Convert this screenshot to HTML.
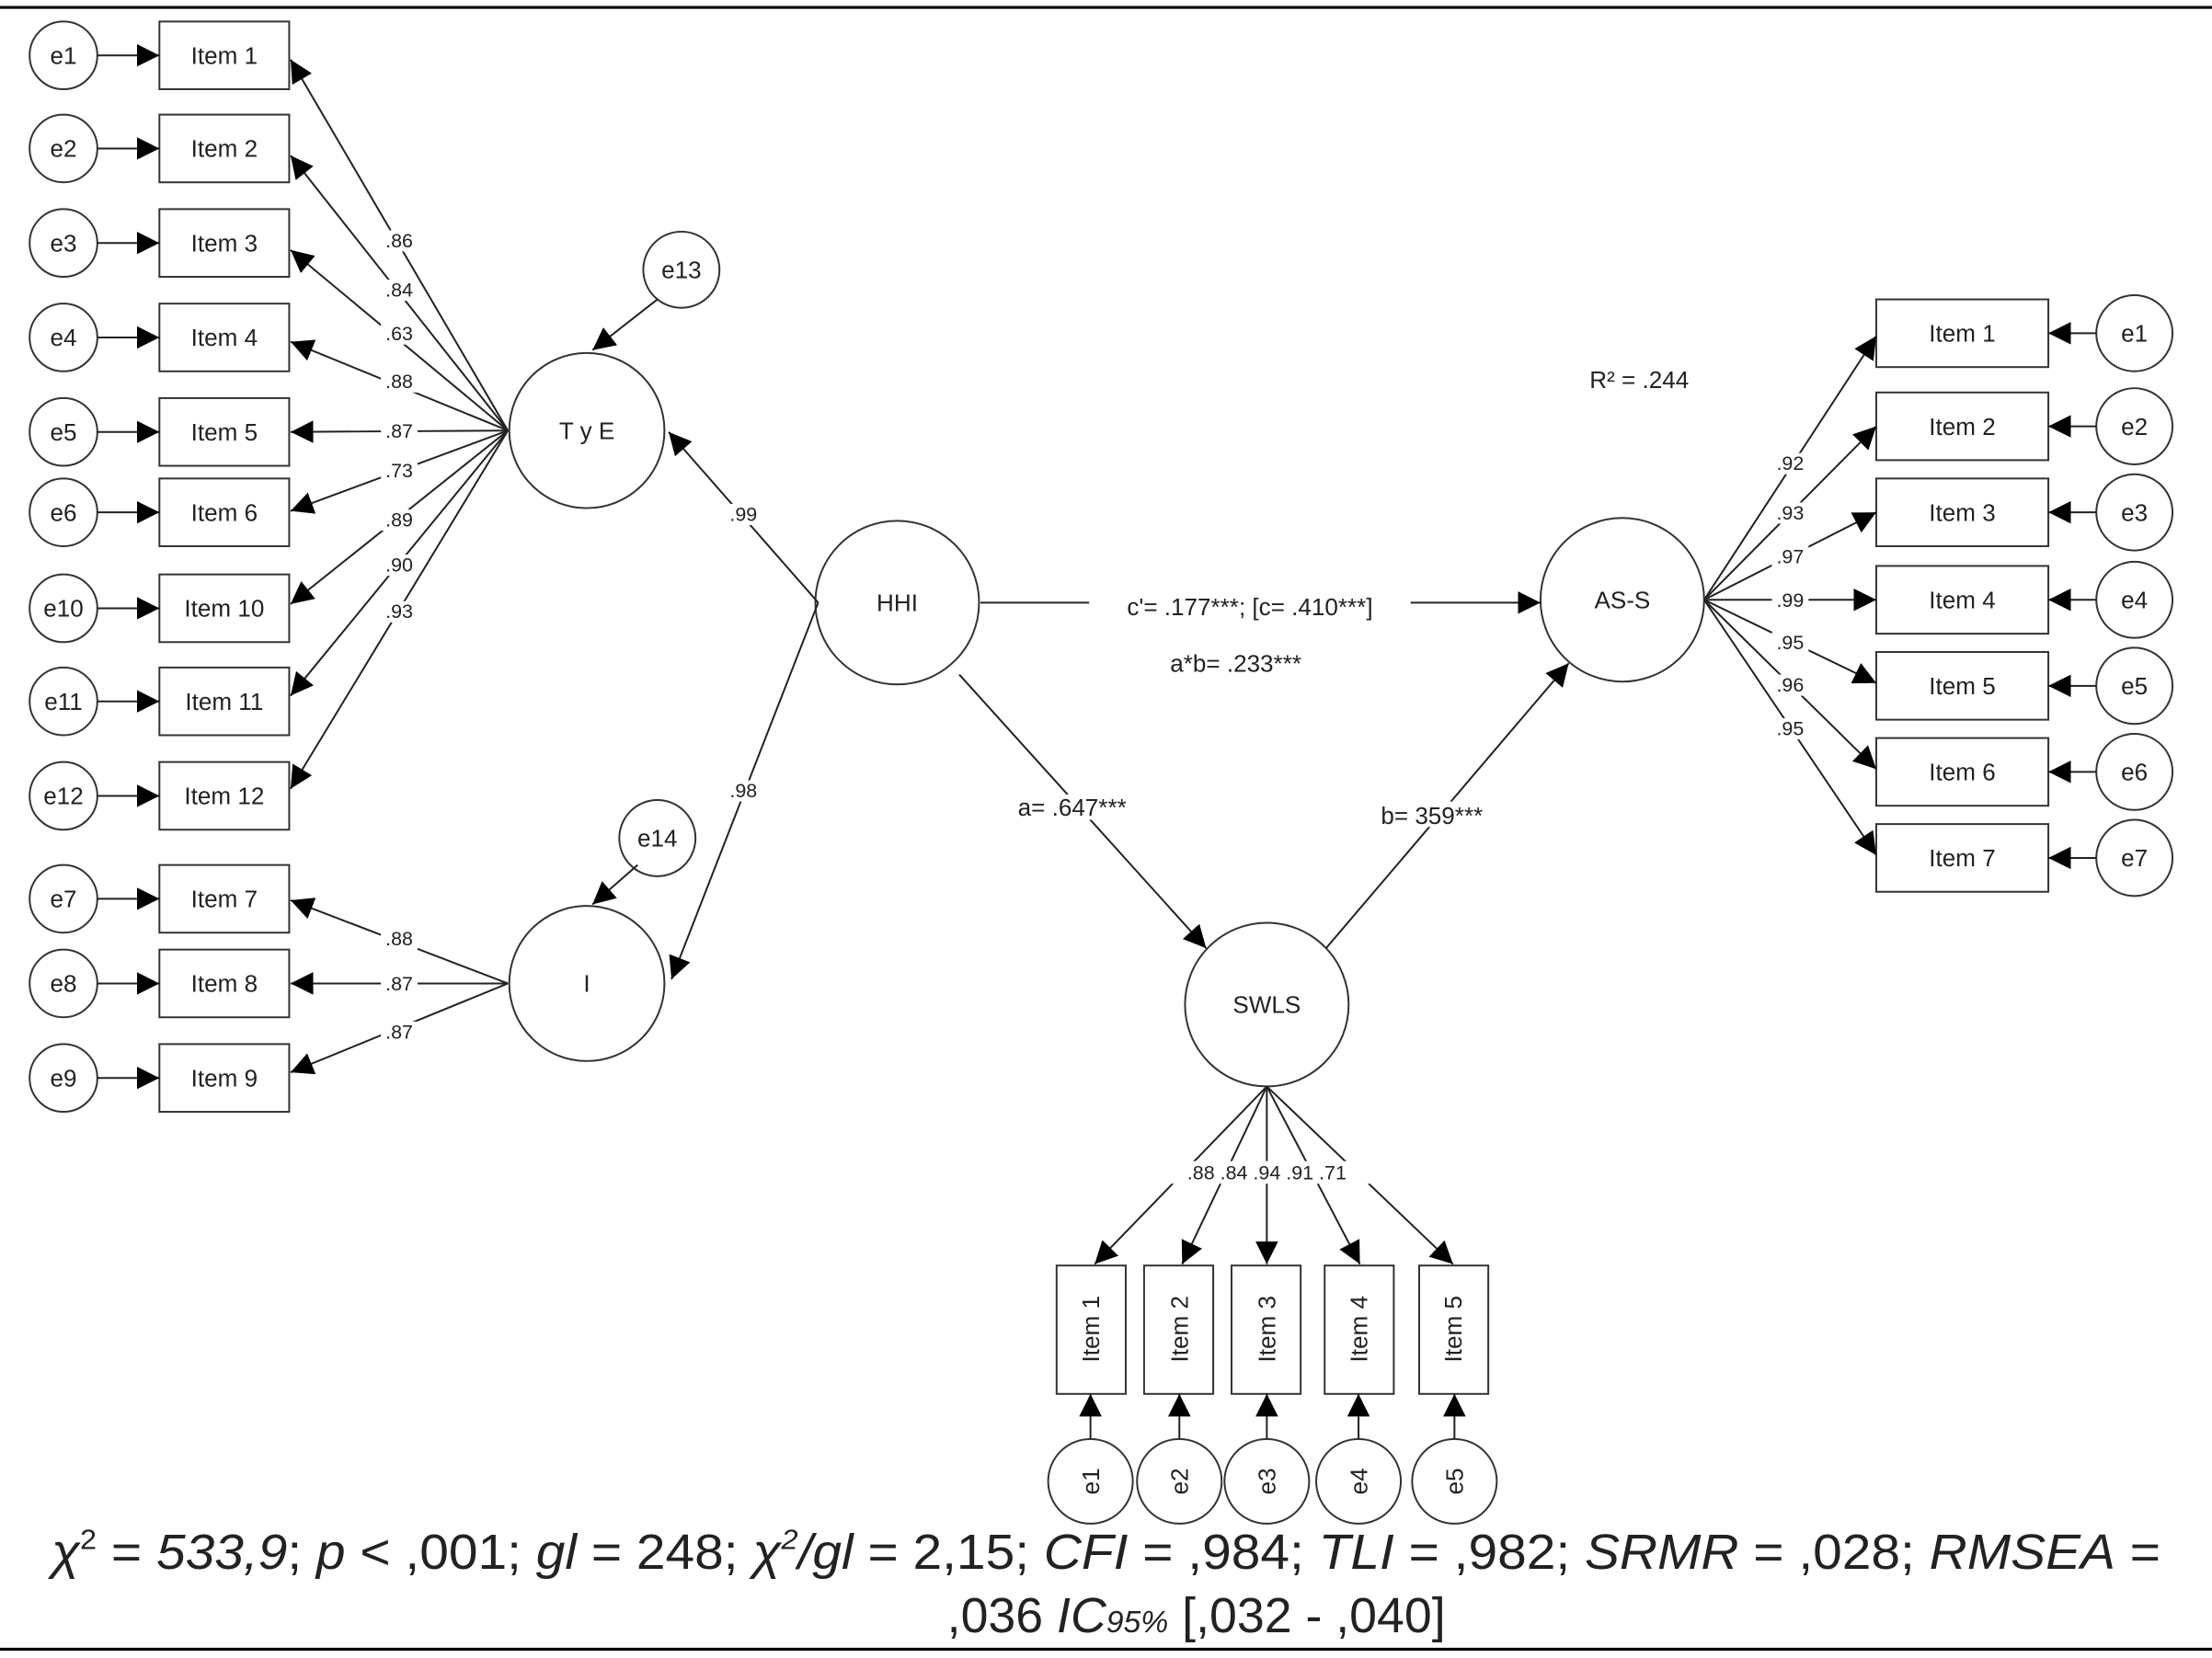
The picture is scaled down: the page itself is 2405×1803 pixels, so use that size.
<!DOCTYPE html>
<html><head><meta charset="utf-8"><style>
html,body{margin:0;padding:0;background:#fff;}
svg{display:block;}
text{font-family:"Liberation Sans",sans-serif;fill:#222;}
</style></head><body>
<svg width="2405" height="1803" viewBox="0 0 1568 1175" xmlns="http://www.w3.org/2000/svg">
<defs>
<marker id="a" viewBox="0 0 10 10" refX="10" refY="5" markerWidth="16" markerHeight="16" markerUnits="userSpaceOnUse" orient="auto">
<path d="M0,0 L10,5 L0,10 z" fill="#000"/></marker>
</defs>
<rect width="1568" height="1175" fill="#fff"/>
<line x1="0" y1="5" x2="1568" y2="5" stroke="#000" stroke-width="2"/>
<line x1="0" y1="1169" x2="1568" y2="1169" stroke="#000" stroke-width="2"/>
<g stroke="#333" stroke-width="1.3" fill="#fff" font-size="17">
<g>
<circle cx="45" cy="39" r="24"/><rect x="113" y="15" width="92" height="48"/>
<circle cx="45" cy="105" r="24"/><rect x="113" y="81" width="92" height="48"/>
<circle cx="45" cy="172" r="24"/><rect x="113" y="148" width="92" height="48"/>
<circle cx="45" cy="239" r="24"/><rect x="113" y="215" width="92" height="48"/>
<circle cx="45" cy="306" r="24"/><rect x="113" y="282" width="92" height="48"/>
<circle cx="45" cy="363" r="24"/><rect x="113" y="339" width="92" height="48"/>
<circle cx="45" cy="431" r="24"/><rect x="113" y="407" width="92" height="48"/>
<circle cx="45" cy="497" r="24"/><rect x="113" y="473" width="92" height="48"/>
<circle cx="45" cy="564" r="24"/><rect x="113" y="540" width="92" height="48"/>
<circle cx="45" cy="637" r="24"/><rect x="113" y="613" width="92" height="48"/>
<circle cx="45" cy="697" r="24"/><rect x="113" y="673" width="92" height="48"/>
<circle cx="45" cy="764" r="24"/><rect x="113" y="740" width="92" height="48"/>
</g>
<circle cx="416" cy="305" r="55"/><circle cx="483" cy="191" r="27"/>
<circle cx="416" cy="697" r="55"/><circle cx="466" cy="594" r="27"/>
<circle cx="636" cy="427" r="58"/><circle cx="898" cy="712" r="58"/><circle cx="1150" cy="425" r="58"/>
<g>
<rect x="1330" y="212" width="122" height="48"/><circle cx="1513" cy="236" r="27"/>
<rect x="1330" y="278" width="122" height="48"/><circle cx="1513" cy="302" r="27"/>
<rect x="1330" y="339" width="122" height="48"/><circle cx="1513" cy="363" r="27"/>
<rect x="1330" y="401" width="122" height="48"/><circle cx="1513" cy="425" r="27"/>
<rect x="1330" y="462" width="122" height="48"/><circle cx="1513" cy="486" r="27"/>
<rect x="1330" y="523" width="122" height="48"/><circle cx="1513" cy="547" r="27"/>
<rect x="1330" y="584" width="122" height="48"/><circle cx="1513" cy="608" r="27"/>
</g>
<g>
<rect x="749" y="897" width="49" height="91"/><circle cx="773" cy="1050" r="30"/>
<rect x="811" y="897" width="49" height="91"/><circle cx="836" cy="1050" r="30"/>
<rect x="873" y="897" width="49" height="91"/><circle cx="898" cy="1050" r="30"/>
<rect x="939" y="897" width="49" height="91"/><circle cx="963" cy="1050" r="30"/>
<rect x="1006" y="897" width="49" height="91"/><circle cx="1031" cy="1050" r="30"/>
</g>
</g>
<g stroke="#222" stroke-width="1.3" marker-end="url(#a)">
<line x1="69" y1="39" x2="113" y2="39"/><line x1="69" y1="105" x2="113" y2="105"/>
<line x1="69" y1="172" x2="113" y2="172"/><line x1="69" y1="239" x2="113" y2="239"/>
<line x1="69" y1="306" x2="113" y2="306"/><line x1="69" y1="363" x2="113" y2="363"/>
<line x1="69" y1="431" x2="113" y2="431"/><line x1="69" y1="497" x2="113" y2="497"/>
<line x1="69" y1="564" x2="113" y2="564"/><line x1="69" y1="637" x2="113" y2="637"/>
<line x1="69" y1="697" x2="113" y2="697"/><line x1="69" y1="764" x2="113" y2="764"/>
<line x1="360" y1="305" x2="206" y2="42"/><line x1="360" y1="305" x2="206" y2="110"/>
<line x1="360" y1="305" x2="206" y2="177"/><line x1="360" y1="305" x2="206" y2="242"/>
<line x1="360" y1="305" x2="206" y2="306"/><line x1="360" y1="305" x2="206" y2="362"/>
<line x1="360" y1="305" x2="206" y2="428"/><line x1="360" y1="305" x2="206" y2="493"/>
<line x1="360" y1="305" x2="206" y2="559"/>
<line x1="360" y1="697" x2="206" y2="638"/><line x1="360" y1="697" x2="206" y2="697"/>
<line x1="360" y1="697" x2="206" y2="760"/>
<line x1="466" y1="212" x2="420" y2="248"/><line x1="452" y1="613" x2="420" y2="641"/>
<line x1="580" y1="427" x2="474" y2="306"/><line x1="580" y1="427" x2="476" y2="694"/>
<line x1="695" y1="427" x2="1092" y2="427"/>
<line x1="680" y1="478" x2="855" y2="672"/>
<line x1="940" y1="672" x2="1112" y2="470"/>
<line x1="1208" y1="425" x2="1330" y2="238"/><line x1="1208" y1="425" x2="1330" y2="302"/>
<line x1="1208" y1="425" x2="1330" y2="363"/><line x1="1208" y1="425" x2="1330" y2="425"/>
<line x1="1208" y1="425" x2="1330" y2="484"/><line x1="1208" y1="425" x2="1330" y2="545"/>
<line x1="1208" y1="425" x2="1330" y2="606"/>
<line x1="1486" y1="236" x2="1452" y2="236"/><line x1="1486" y1="302" x2="1452" y2="302"/>
<line x1="1486" y1="363" x2="1452" y2="363"/><line x1="1486" y1="425" x2="1452" y2="425"/>
<line x1="1486" y1="486" x2="1452" y2="486"/><line x1="1486" y1="547" x2="1452" y2="547"/>
<line x1="1486" y1="608" x2="1452" y2="608"/>
<line x1="898" y1="770" x2="776" y2="896"/><line x1="898" y1="770" x2="838" y2="896"/>
<line x1="898" y1="770" x2="898" y2="896"/><line x1="898" y1="770" x2="964" y2="896"/>
<line x1="898" y1="770" x2="1030" y2="896"/>
<line x1="773" y1="1020" x2="773" y2="988"/><line x1="836" y1="1020" x2="836" y2="988"/>
<line x1="898" y1="1020" x2="898" y2="988"/><line x1="963" y1="1020" x2="963" y2="988"/>
<line x1="1031" y1="1020" x2="1031" y2="988"/>
</g>
<g fill="#fff" stroke="none">
<rect x="270" y="163" width="26" height="15"/><rect x="270" y="198" width="26" height="15"/>
<rect x="270" y="229" width="26" height="15"/><rect x="270" y="263" width="26" height="15"/>
<rect x="270" y="298" width="26" height="15"/><rect x="270" y="326" width="26" height="15"/>
<rect x="270" y="361" width="26" height="15"/><rect x="270" y="393" width="26" height="15"/>
<rect x="270" y="426" width="26" height="15"/>
<rect x="270" y="658" width="26" height="15"/><rect x="270" y="690" width="26" height="15"/>
<rect x="270" y="724" width="26" height="15"/>
<rect x="514" y="357" width="26" height="15"/><rect x="514" y="553" width="26" height="15"/>
<rect x="772" y="420" width="228" height="18"/><rect x="716" y="563" width="90" height="18"/>
<rect x="970" y="568" width="90" height="18"/>
<rect x="1256" y="321" width="26" height="15"/><rect x="1256" y="356" width="26" height="15"/>
<rect x="1256" y="387" width="26" height="15"/><rect x="1256" y="418" width="26" height="15"/>
<rect x="1256" y="448" width="26" height="15"/><rect x="1256" y="478" width="26" height="15"/>
<rect x="1256" y="509" width="26" height="15"/>
<rect x="818" y="823" width="160" height="16"/>
</g>
<g font-size="17" text-anchor="middle">
<text x="159" y="45">Item 1</text><text x="159" y="111">Item 2</text><text x="159" y="178">Item 3</text>
<text x="159" y="245">Item 4</text><text x="159" y="312">Item 5</text><text x="159" y="369">Item 6</text>
<text x="159" y="437">Item 10</text><text x="159" y="503">Item 11</text><text x="159" y="570">Item 12</text>
<text x="159" y="643">Item 7</text><text x="159" y="703">Item 8</text><text x="159" y="770">Item 9</text>
<text x="45" y="45">e1</text><text x="45" y="111">e2</text><text x="45" y="178">e3</text>
<text x="45" y="245">e4</text><text x="45" y="312">e5</text><text x="45" y="369">e6</text>
<text x="45" y="437">e10</text><text x="45" y="503">e11</text><text x="45" y="570">e12</text>
<text x="45" y="643">e7</text><text x="45" y="703">e8</text><text x="45" y="770">e9</text>
<text x="483" y="197">e13</text><text x="466" y="600">e14</text>
<text x="416" y="311">T y E</text><text x="416" y="703">I</text>
<text x="636" y="433">HHI</text><text x="898" y="718">SWLS</text><text x="1150" y="431">AS-S</text>
<text x="1391" y="242">Item 1</text><text x="1391" y="308">Item 2</text><text x="1391" y="369">Item 3</text>
<text x="1391" y="431">Item 4</text><text x="1391" y="492">Item 5</text><text x="1391" y="553">Item 6</text>
<text x="1391" y="614">Item 7</text>
<text x="1513" y="242">e1</text><text x="1513" y="308">e2</text><text x="1513" y="369">e3</text>
<text x="1513" y="431">e4</text><text x="1513" y="492">e5</text><text x="1513" y="553">e6</text>
<text x="1513" y="614">e7</text>
<text x="1162" y="275">R² = .244</text>
<text x="886" y="436">c'= .177***; [c= .410***]</text>
<text x="876" y="476">a*b= .233***</text>
<text x="760" y="578">a= .647***</text>
<text x="1015" y="584">b= 359***</text>
</g>
<g font-size="17" text-anchor="middle">
<text transform="translate(779,942) rotate(-90)">Item 1</text>
<text transform="translate(842,942) rotate(-90)">Item 2</text>
<text transform="translate(904,942) rotate(-90)">Item 3</text>
<text transform="translate(969,942) rotate(-90)">Item 4</text>
<text transform="translate(1036,942) rotate(-90)">Item 5</text>
<text transform="translate(779,1050) rotate(-90)">e1</text>
<text transform="translate(842,1050) rotate(-90)">e2</text>
<text transform="translate(904,1050) rotate(-90)">e3</text>
<text transform="translate(969,1050) rotate(-90)">e4</text>
<text transform="translate(1037,1050) rotate(-90)">e5</text>
</g>
<g font-size="14" text-anchor="middle">
<text x="283" y="175">.86</text><text x="283" y="210">.84</text><text x="283" y="241">.63</text>
<text x="283" y="275">.88</text><text x="283" y="310">.87</text><text x="283" y="338">.73</text>
<text x="283" y="373">.89</text><text x="283" y="405">.90</text><text x="283" y="438">.93</text>
<text x="283" y="670">.88</text><text x="283" y="702">.87</text><text x="283" y="736">.87</text>
<text x="527" y="369">.99</text><text x="527" y="565">.98</text>
<text x="1269" y="333">.92</text><text x="1269" y="368">.93</text><text x="1269" y="399">.97</text>
<text x="1269" y="430">.99</text><text x="1269" y="460">.95</text><text x="1269" y="490">.96</text>
<text x="1269" y="521">.95</text>
<text x="898" y="836">.88 .84 .94  .91  .71</text>
</g>
<g font-size="35" text-anchor="middle" style="fill:#000">
<text x="784" y="1112" textLength="1495" lengthAdjust="spacingAndGlyphs"><tspan font-style="italic">χ</tspan><tspan font-size="20" dy="-14">2</tspan><tspan dy="14"> = </tspan><tspan font-style="italic">533,9</tspan>; <tspan font-style="italic">p</tspan> &lt; ,001; <tspan font-style="italic">gl</tspan> = 248; <tspan font-style="italic">χ</tspan><tspan font-size="20" dy="-14" font-style="italic">2</tspan><tspan dy="14" font-style="italic">/gl</tspan> = 2,15; <tspan font-style="italic">CFI</tspan> = ,984; <tspan font-style="italic">TLI</tspan> = ,982; <tspan font-style="italic">SRMR</tspan> = ,028; <tspan font-style="italic">RMSEA</tspan> =</text>
<text x="848" y="1157">,036 <tspan font-style="italic">IC</tspan><tspan font-style="italic" font-size="22">95%</tspan> [,032 - ,040]</text>
</g>
</svg>
</body></html>
